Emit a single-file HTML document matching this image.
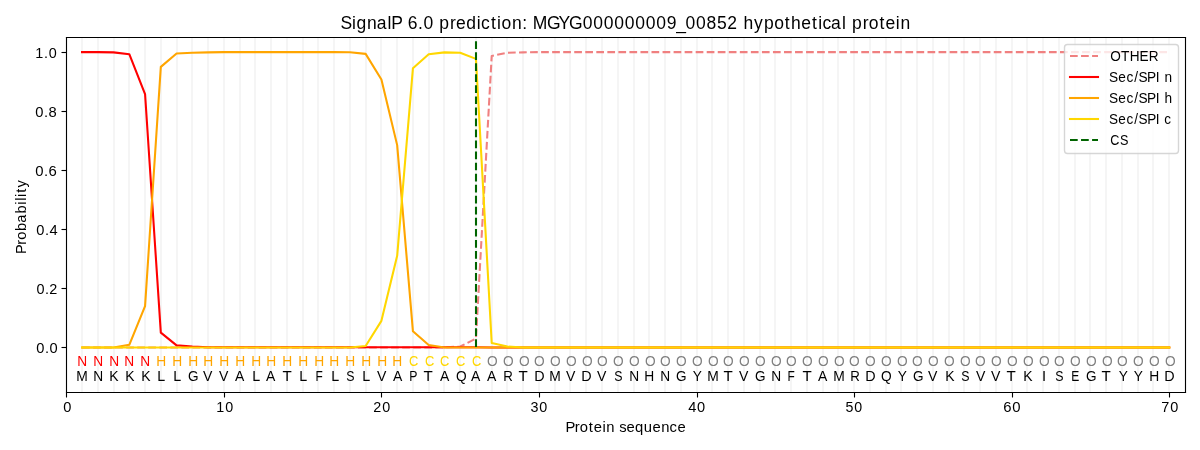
<!DOCTYPE html>
<html><head><meta charset="utf-8"><title>SignalP 6.0 prediction</title><style>html,body{margin:0;padding:0;background:#fff;overflow:hidden;width:1200px;height:450px}svg{display:block;will-change:transform}</style></head>
<body>
<svg width="1200" height="450" viewBox="0 0 1200 450" font-family="'Liberation Sans', sans-serif"><defs><clipPath id="c0"><rect x="66" y="37" width="1120" height="356"/></clipPath></defs>
<path d="M0 450L1200 450L1200 0L0 0Z" style="fill:#ffffff"/>
<path d="M66 392L1185 392L1185 37L66 37Z" style="fill:#ffffff"/>
<path d="M82 392L82 37" clip-path="url(#c0)" style="fill:none;stroke:#f5f5f5;stroke-width:2.08;stroke-linecap:square;stroke-linejoin:round"/>
<path d="M98 392L98 37" clip-path="url(#c0)" style="fill:none;stroke:#f5f5f5;stroke-width:2.08;stroke-linecap:square;stroke-linejoin:round"/>
<path d="M114 392L114 37" clip-path="url(#c0)" style="fill:none;stroke:#f5f5f5;stroke-width:2.08;stroke-linecap:square;stroke-linejoin:round"/>
<path d="M129 392L129 37" clip-path="url(#c0)" style="fill:none;stroke:#f5f5f5;stroke-width:2.08;stroke-linecap:square;stroke-linejoin:round"/>
<path d="M145 392L145 37" clip-path="url(#c0)" style="fill:none;stroke:#f5f5f5;stroke-width:2.08;stroke-linecap:square;stroke-linejoin:round"/>
<path d="M161 392L161 37" clip-path="url(#c0)" style="fill:none;stroke:#f5f5f5;stroke-width:2.08;stroke-linecap:square;stroke-linejoin:round"/>
<path d="M177 392L177 37" clip-path="url(#c0)" style="fill:none;stroke:#f5f5f5;stroke-width:2.08;stroke-linecap:square;stroke-linejoin:round"/>
<path d="M192 392L192 37" clip-path="url(#c0)" style="fill:none;stroke:#f5f5f5;stroke-width:2.08;stroke-linecap:square;stroke-linejoin:round"/>
<path d="M208 392L208 37" clip-path="url(#c0)" style="fill:none;stroke:#f5f5f5;stroke-width:2.08;stroke-linecap:square;stroke-linejoin:round"/>
<path d="M224 392L224 37" clip-path="url(#c0)" style="fill:none;stroke:#f5f5f5;stroke-width:2.08;stroke-linecap:square;stroke-linejoin:round"/>
<path d="M240 392L240 37" clip-path="url(#c0)" style="fill:none;stroke:#f5f5f5;stroke-width:2.08;stroke-linecap:square;stroke-linejoin:round"/>
<path d="M255 392L255 37" clip-path="url(#c0)" style="fill:none;stroke:#f5f5f5;stroke-width:2.08;stroke-linecap:square;stroke-linejoin:round"/>
<path d="M271 392L271 37" clip-path="url(#c0)" style="fill:none;stroke:#f5f5f5;stroke-width:2.08;stroke-linecap:square;stroke-linejoin:round"/>
<path d="M287 392L287 37" clip-path="url(#c0)" style="fill:none;stroke:#f5f5f5;stroke-width:2.08;stroke-linecap:square;stroke-linejoin:round"/>
<path d="M303 392L303 37" clip-path="url(#c0)" style="fill:none;stroke:#f5f5f5;stroke-width:2.08;stroke-linecap:square;stroke-linejoin:round"/>
<path d="M318 392L318 37" clip-path="url(#c0)" style="fill:none;stroke:#f5f5f5;stroke-width:2.08;stroke-linecap:square;stroke-linejoin:round"/>
<path d="M334 392L334 37" clip-path="url(#c0)" style="fill:none;stroke:#f5f5f5;stroke-width:2.08;stroke-linecap:square;stroke-linejoin:round"/>
<path d="M350 392L350 37" clip-path="url(#c0)" style="fill:none;stroke:#f5f5f5;stroke-width:2.08;stroke-linecap:square;stroke-linejoin:round"/>
<path d="M366 392L366 37" clip-path="url(#c0)" style="fill:none;stroke:#f5f5f5;stroke-width:2.08;stroke-linecap:square;stroke-linejoin:round"/>
<path d="M381 392L381 37" clip-path="url(#c0)" style="fill:none;stroke:#f5f5f5;stroke-width:2.08;stroke-linecap:square;stroke-linejoin:round"/>
<path d="M397 392L397 37" clip-path="url(#c0)" style="fill:none;stroke:#f5f5f5;stroke-width:2.08;stroke-linecap:square;stroke-linejoin:round"/>
<path d="M413 392L413 37" clip-path="url(#c0)" style="fill:none;stroke:#f5f5f5;stroke-width:2.08;stroke-linecap:square;stroke-linejoin:round"/>
<path d="M429 392L429 37" clip-path="url(#c0)" style="fill:none;stroke:#f5f5f5;stroke-width:2.08;stroke-linecap:square;stroke-linejoin:round"/>
<path d="M444 392L444 37" clip-path="url(#c0)" style="fill:none;stroke:#f5f5f5;stroke-width:2.08;stroke-linecap:square;stroke-linejoin:round"/>
<path d="M460 392L460 37" clip-path="url(#c0)" style="fill:none;stroke:#f5f5f5;stroke-width:2.08;stroke-linecap:square;stroke-linejoin:round"/>
<path d="M476 392L476 37" clip-path="url(#c0)" style="fill:none;stroke:#f5f5f5;stroke-width:2.08;stroke-linecap:square;stroke-linejoin:round"/>
<path d="M492 392L492 37" clip-path="url(#c0)" style="fill:none;stroke:#f5f5f5;stroke-width:2.08;stroke-linecap:square;stroke-linejoin:round"/>
<path d="M507 392L507 37" clip-path="url(#c0)" style="fill:none;stroke:#f5f5f5;stroke-width:2.08;stroke-linecap:square;stroke-linejoin:round"/>
<path d="M523 392L523 37" clip-path="url(#c0)" style="fill:none;stroke:#f5f5f5;stroke-width:2.08;stroke-linecap:square;stroke-linejoin:round"/>
<path d="M539 392L539 37" clip-path="url(#c0)" style="fill:none;stroke:#f5f5f5;stroke-width:2.08;stroke-linecap:square;stroke-linejoin:round"/>
<path d="M555 392L555 37" clip-path="url(#c0)" style="fill:none;stroke:#f5f5f5;stroke-width:2.08;stroke-linecap:square;stroke-linejoin:round"/>
<path d="M570 392L570 37" clip-path="url(#c0)" style="fill:none;stroke:#f5f5f5;stroke-width:2.08;stroke-linecap:square;stroke-linejoin:round"/>
<path d="M586 392L586 37" clip-path="url(#c0)" style="fill:none;stroke:#f5f5f5;stroke-width:2.08;stroke-linecap:square;stroke-linejoin:round"/>
<path d="M602 392L602 37" clip-path="url(#c0)" style="fill:none;stroke:#f5f5f5;stroke-width:2.08;stroke-linecap:square;stroke-linejoin:round"/>
<path d="M618 392L618 37" clip-path="url(#c0)" style="fill:none;stroke:#f5f5f5;stroke-width:2.08;stroke-linecap:square;stroke-linejoin:round"/>
<path d="M634 392L634 37" clip-path="url(#c0)" style="fill:none;stroke:#f5f5f5;stroke-width:2.08;stroke-linecap:square;stroke-linejoin:round"/>
<path d="M649 392L649 37" clip-path="url(#c0)" style="fill:none;stroke:#f5f5f5;stroke-width:2.08;stroke-linecap:square;stroke-linejoin:round"/>
<path d="M665 392L665 37" clip-path="url(#c0)" style="fill:none;stroke:#f5f5f5;stroke-width:2.08;stroke-linecap:square;stroke-linejoin:round"/>
<path d="M681 392L681 37" clip-path="url(#c0)" style="fill:none;stroke:#f5f5f5;stroke-width:2.08;stroke-linecap:square;stroke-linejoin:round"/>
<path d="M697 392L697 37" clip-path="url(#c0)" style="fill:none;stroke:#f5f5f5;stroke-width:2.08;stroke-linecap:square;stroke-linejoin:round"/>
<path d="M712 392L712 37" clip-path="url(#c0)" style="fill:none;stroke:#f5f5f5;stroke-width:2.08;stroke-linecap:square;stroke-linejoin:round"/>
<path d="M728 392L728 37" clip-path="url(#c0)" style="fill:none;stroke:#f5f5f5;stroke-width:2.08;stroke-linecap:square;stroke-linejoin:round"/>
<path d="M744 392L744 37" clip-path="url(#c0)" style="fill:none;stroke:#f5f5f5;stroke-width:2.08;stroke-linecap:square;stroke-linejoin:round"/>
<path d="M760 392L760 37" clip-path="url(#c0)" style="fill:none;stroke:#f5f5f5;stroke-width:2.08;stroke-linecap:square;stroke-linejoin:round"/>
<path d="M775 392L775 37" clip-path="url(#c0)" style="fill:none;stroke:#f5f5f5;stroke-width:2.08;stroke-linecap:square;stroke-linejoin:round"/>
<path d="M791 392L791 37" clip-path="url(#c0)" style="fill:none;stroke:#f5f5f5;stroke-width:2.08;stroke-linecap:square;stroke-linejoin:round"/>
<path d="M807 392L807 37" clip-path="url(#c0)" style="fill:none;stroke:#f5f5f5;stroke-width:2.08;stroke-linecap:square;stroke-linejoin:round"/>
<path d="M823 392L823 37" clip-path="url(#c0)" style="fill:none;stroke:#f5f5f5;stroke-width:2.08;stroke-linecap:square;stroke-linejoin:round"/>
<path d="M838 392L838 37" clip-path="url(#c0)" style="fill:none;stroke:#f5f5f5;stroke-width:2.08;stroke-linecap:square;stroke-linejoin:round"/>
<path d="M854 392L854 37" clip-path="url(#c0)" style="fill:none;stroke:#f5f5f5;stroke-width:2.08;stroke-linecap:square;stroke-linejoin:round"/>
<path d="M870 392L870 37" clip-path="url(#c0)" style="fill:none;stroke:#f5f5f5;stroke-width:2.08;stroke-linecap:square;stroke-linejoin:round"/>
<path d="M886 392L886 37" clip-path="url(#c0)" style="fill:none;stroke:#f5f5f5;stroke-width:2.08;stroke-linecap:square;stroke-linejoin:round"/>
<path d="M901 392L901 37" clip-path="url(#c0)" style="fill:none;stroke:#f5f5f5;stroke-width:2.08;stroke-linecap:square;stroke-linejoin:round"/>
<path d="M917 392L917 37" clip-path="url(#c0)" style="fill:none;stroke:#f5f5f5;stroke-width:2.08;stroke-linecap:square;stroke-linejoin:round"/>
<path d="M933 392L933 37" clip-path="url(#c0)" style="fill:none;stroke:#f5f5f5;stroke-width:2.08;stroke-linecap:square;stroke-linejoin:round"/>
<path d="M949 392L949 37" clip-path="url(#c0)" style="fill:none;stroke:#f5f5f5;stroke-width:2.08;stroke-linecap:square;stroke-linejoin:round"/>
<path d="M964 392L964 37" clip-path="url(#c0)" style="fill:none;stroke:#f5f5f5;stroke-width:2.08;stroke-linecap:square;stroke-linejoin:round"/>
<path d="M980 392L980 37" clip-path="url(#c0)" style="fill:none;stroke:#f5f5f5;stroke-width:2.08;stroke-linecap:square;stroke-linejoin:round"/>
<path d="M996 392L996 37" clip-path="url(#c0)" style="fill:none;stroke:#f5f5f5;stroke-width:2.08;stroke-linecap:square;stroke-linejoin:round"/>
<path d="M1012 392L1012 37" clip-path="url(#c0)" style="fill:none;stroke:#f5f5f5;stroke-width:2.08;stroke-linecap:square;stroke-linejoin:round"/>
<path d="M1027 392L1027 37" clip-path="url(#c0)" style="fill:none;stroke:#f5f5f5;stroke-width:2.08;stroke-linecap:square;stroke-linejoin:round"/>
<path d="M1043 392L1043 37" clip-path="url(#c0)" style="fill:none;stroke:#f5f5f5;stroke-width:2.08;stroke-linecap:square;stroke-linejoin:round"/>
<path d="M1059 392L1059 37" clip-path="url(#c0)" style="fill:none;stroke:#f5f5f5;stroke-width:2.08;stroke-linecap:square;stroke-linejoin:round"/>
<path d="M1075 392L1075 37" clip-path="url(#c0)" style="fill:none;stroke:#f5f5f5;stroke-width:2.08;stroke-linecap:square;stroke-linejoin:round"/>
<path d="M1090 392L1090 37" clip-path="url(#c0)" style="fill:none;stroke:#f5f5f5;stroke-width:2.08;stroke-linecap:square;stroke-linejoin:round"/>
<path d="M1106 392L1106 37" clip-path="url(#c0)" style="fill:none;stroke:#f5f5f5;stroke-width:2.08;stroke-linecap:square;stroke-linejoin:round"/>
<path d="M1122 392L1122 37" clip-path="url(#c0)" style="fill:none;stroke:#f5f5f5;stroke-width:2.08;stroke-linecap:square;stroke-linejoin:round"/>
<path d="M1138 392L1138 37" clip-path="url(#c0)" style="fill:none;stroke:#f5f5f5;stroke-width:2.08;stroke-linecap:square;stroke-linejoin:round"/>
<path d="M1153 392L1153 37" clip-path="url(#c0)" style="fill:none;stroke:#f5f5f5;stroke-width:2.08;stroke-linecap:square;stroke-linejoin:round"/>
<path d="M1169 392L1169 37" clip-path="url(#c0)" style="fill:none;stroke:#f5f5f5;stroke-width:2.08;stroke-linecap:square;stroke-linejoin:round"/>
<path d="M66.5 392.5L66.5 397.5" style="fill:none;stroke:#000000;stroke-width:1.11;stroke-linecap:butt;stroke-linejoin:round"/>
<text transform="translate(63 412.44) scale(1.0039 1)" x="0.34" y="0" font-size="14.58" fill="#000000">0</text>
<path d="M224.5 392.5L224.5 397.5" style="fill:none;stroke:#000000;stroke-width:1.11;stroke-linecap:butt;stroke-linejoin:round"/>
<text transform="translate(216 412.44) scale(0.9826 1)" x="0.37 9.47" y="0" font-size="14.58" fill="#000000">10</text>
<path d="M381.5 392.5L381.5 397.5" style="fill:none;stroke:#000000;stroke-width:1.11;stroke-linecap:butt;stroke-linejoin:round"/>
<text transform="translate(373 412.44) scale(0.9863 1)" x="0.24 9.29" y="0" font-size="14.58" fill="#000000">20</text>
<path d="M539.5 392.5L539.5 397.5" style="fill:none;stroke:#000000;stroke-width:1.11;stroke-linecap:butt;stroke-linejoin:round"/>
<text transform="translate(530 412.44) scale(0.9841 1)" x="0.45 9.32" y="0" font-size="14.58" fill="#000000">30</text>
<path d="M697.5 392.5L697.5 397.5" style="fill:none;stroke:#000000;stroke-width:1.11;stroke-linecap:butt;stroke-linejoin:round"/>
<text transform="translate(688 412.44) scale(1.0040 1)" x="0.34 9.06" y="0" font-size="14.58" fill="#000000">40</text>
<path d="M854.5 392.5L854.5 397.5" style="fill:none;stroke:#000000;stroke-width:1.11;stroke-linecap:butt;stroke-linejoin:round"/>
<text transform="translate(845 412.44) scale(0.9758 1)" x="0.41 9.44" y="0" font-size="14.58" fill="#000000">50</text>
<path d="M1012.5 392.5L1012.5 397.5" style="fill:none;stroke:#000000;stroke-width:1.11;stroke-linecap:butt;stroke-linejoin:round"/>
<text transform="translate(1003 412.44) scale(1.0212 1)" x="0.27 8.96" y="0" font-size="14.58" fill="#000000">60</text>
<path d="M1169.5 392.5L1169.5 397.5" style="fill:none;stroke:#000000;stroke-width:1.11;stroke-linecap:butt;stroke-linejoin:round"/>
<text transform="translate(1161 412.44) scale(0.9933 1)" x="0.36 9.2" y="0" font-size="14.58" fill="#000000">70</text>
<text transform="translate(566 432) scale(1.0149 1)" x="-0.51 8.65 13.56 22.42 27.4 35.88 39.72 0 52.36 59.55 67.94 76.73 85.29 93.79 102.05 109.8" y="0" font-size="14.58" fill="#000000">Protein sequence</text>
<path d="M66.5 347.5L61.5 347.5" style="fill:none;stroke:#000000;stroke-width:1.11;stroke-linecap:butt;stroke-linejoin:round"/>
<text transform="translate(36 352.92) scale(1.0063 1)" x="0.33 8.86 13.37" y="0" font-size="14.58" fill="#000000">0.0</text>
<path d="M66.5 288.5L61.5 288.5" style="fill:none;stroke:#000000;stroke-width:1.11;stroke-linecap:butt;stroke-linejoin:round"/>
<text transform="translate(36 293.86) scale(0.9903 1)" x="0.4 9.03 13.47" y="0" font-size="14.58" fill="#000000">0.2</text>
<path d="M66.5 229.5L61.5 229.5" style="fill:none;stroke:#000000;stroke-width:1.11;stroke-linecap:butt;stroke-linejoin:round"/>
<text transform="translate(36 234.79) scale(1.0063 1)" x="0.33 8.86 13.37" y="0" font-size="14.58" fill="#000000">0.4</text>
<path d="M66.5 170.5L61.5 170.5" style="fill:none;stroke:#000000;stroke-width:1.11;stroke-linecap:butt;stroke-linejoin:round"/>
<text transform="translate(35 175.73) scale(1.0220 1)" x="0.26 8.69 13.11" y="0" font-size="14.58" fill="#000000">0.6</text>
<path d="M66.5 111.5L61.5 111.5" style="fill:none;stroke:#000000;stroke-width:1.11;stroke-linecap:butt;stroke-linejoin:round"/>
<text transform="translate(35 116.66) scale(1.0113 1)" x="0.31 8.8 13.29" y="0" font-size="14.58" fill="#000000">0.8</text>
<path d="M66.5 52.5L61.5 52.5" style="fill:none;stroke:#000000;stroke-width:1.11;stroke-linecap:butt;stroke-linejoin:round"/>
<text transform="translate(35 57.6) scale(0.9871 1)" x="0.34 9.19 13.84" y="0" font-size="14.58" fill="#000000">1.0</text>
<text transform="translate(26 253.47) rotate(-90) scale(1.0026 1)" x="-0.46 8.79 13.77 22.49 30.58 39.95 48.68 52.54 56.41 60.62 65.9" y="0" font-size="14.58" fill="#000000">Probability</text>
<path d="M82.03 347.42L97.79 347.42L113.55 347.42L129.3 347.42L145.06 347.42L160.82 347.42L176.57 347.42L192.33 347.42L208.09 347.42L223.84 347.42L239.6 347.42L255.36 347.42L271.11 347.42L286.87 347.42L302.63 347.42L318.38 347.42L334.14 347.42L349.9 347.42L365.65 347.42L381.41 347.42L397.17 347.42L412.92 347.42L428.68 347.42L444.44 347.42L460.19 346.54L475.95 338.56L491.71 55.94L507.46 52.69L523.22 52.39L538.98 52.1L554.73 52.1L570.49 52.1L586.25 52.1L602 52.1L617.76 52.1L633.52 52.1L649.27 52.1L665.03 52.1L680.79 52.1L696.54 52.1L712.3 52.1L728.06 52.1L743.81 52.1L759.57 52.1L775.33 52.1L791.08 52.1L806.84 52.1L822.6 52.1L838.35 52.1L854.11 52.1L869.87 52.1L885.62 52.1L901.38 52.1L917.14 52.1L932.89 52.1L948.65 52.1L964.41 52.1L980.16 52.1L995.92 52.1L1011.68 52.1L1027.43 52.1L1043.19 52.1L1058.95 52.1L1074.7 52.1L1090.46 52.1L1106.22 52.1L1121.97 52.1L1137.73 52.1L1153.49 52.1L1169.24 52.1" clip-path="url(#c0)" style="fill:none;stroke:#f08080;stroke-width:2.08;stroke-linecap:butt;stroke-linejoin:round;stroke-dasharray:7.71,3.33"/>
<path d="M82.03 52.1L97.79 52.1L113.55 52.39L129.3 54.17L145.06 94.04L160.82 332.66L176.57 345.36L192.33 346.54L208.09 347.22L223.84 347.22L239.6 347.22L255.36 347.22L271.11 347.22L286.87 347.22L302.63 347.22L318.38 347.22L334.14 347.22L349.9 347.22L365.65 347.22L381.41 347.22L397.17 347.22L412.92 347.22L428.68 347.22L444.44 347.22L460.19 347.22L475.95 347.22L491.71 347.42L507.46 347.42L523.22 347.42L538.98 347.42L554.73 347.42L570.49 347.42L586.25 347.42L602 347.42L617.76 347.42L633.52 347.42L649.27 347.42L665.03 347.42L680.79 347.42L696.54 347.42L712.3 347.42L728.06 347.42L743.81 347.42L759.57 347.42L775.33 347.42L791.08 347.42L806.84 347.42L822.6 347.42L838.35 347.42L854.11 347.42L869.87 347.42L885.62 347.42L901.38 347.42L917.14 347.42L932.89 347.42L948.65 347.42L964.41 347.42L980.16 347.42L995.92 347.42L1011.68 347.42L1027.43 347.42L1043.19 347.42L1058.95 347.42L1074.7 347.42L1090.46 347.42L1106.22 347.42L1121.97 347.42L1137.73 347.42L1153.49 347.42L1169.24 347.42" clip-path="url(#c0)" style="fill:none;stroke:#ff0000;stroke-width:2.08;stroke-linecap:square;stroke-linejoin:round"/>
<path d="M82.03 347.42L97.79 347.42L113.55 347.42L129.3 344.77L145.06 306.08L160.82 66.87L176.57 53.58L192.33 52.69L208.09 52.39L223.84 52.1L239.6 52.1L255.36 52.1L271.11 52.1L286.87 52.1L302.63 52.1L318.38 52.1L334.14 52.1L349.9 52.25L365.65 53.87L381.41 79.56L397.17 145.13L412.92 331.18L428.68 345.06L444.44 347.42L460.19 347.42L475.95 347.42L491.71 347.42L507.46 347.42L523.22 347.42L538.98 347.42L554.73 347.42L570.49 347.42L586.25 347.42L602 347.42L617.76 347.42L633.52 347.42L649.27 347.42L665.03 347.42L680.79 347.42L696.54 347.42L712.3 347.42L728.06 347.42L743.81 347.42L759.57 347.42L775.33 347.42L791.08 347.42L806.84 347.42L822.6 347.42L838.35 347.42L854.11 347.42L869.87 347.42L885.62 347.42L901.38 347.42L917.14 347.42L932.89 347.42L948.65 347.42L964.41 347.42L980.16 347.42L995.92 347.42L1011.68 347.42L1027.43 347.42L1043.19 347.42L1058.95 347.42L1074.7 347.42L1090.46 347.42L1106.22 347.42L1121.97 347.42L1137.73 347.42L1153.49 347.42L1169.24 347.42" clip-path="url(#c0)" style="fill:none;stroke:#ffa500;stroke-width:2.08;stroke-linecap:square;stroke-linejoin:round"/>
<path d="M82.03 347.42L97.79 347.42L113.55 347.42L129.3 347.42L145.06 347.42L160.82 347.42L176.57 347.42L192.33 347.42L208.09 347.42L223.84 347.42L239.6 347.42L255.36 347.42L271.11 347.42L286.87 347.42L302.63 347.42L318.38 347.42L334.14 347.42L349.9 347.42L365.65 345.95L381.41 320.84L397.17 255.87L412.92 68.34L428.68 54.17L444.44 52.39L460.19 52.69L475.95 58.89L491.71 342.99L507.46 346.54L523.22 347.42L538.98 347.42L554.73 347.42L570.49 347.42L586.25 347.42L602 347.42L617.76 347.42L633.52 347.42L649.27 347.42L665.03 347.42L680.79 347.42L696.54 347.42L712.3 347.42L728.06 347.42L743.81 347.42L759.57 347.42L775.33 347.42L791.08 347.42L806.84 347.42L822.6 347.42L838.35 347.42L854.11 347.42L869.87 347.42L885.62 347.42L901.38 347.42L917.14 347.42L932.89 347.42L948.65 347.42L964.41 347.42L980.16 347.42L995.92 347.42L1011.68 347.42L1027.43 347.42L1043.19 347.42L1058.95 347.42L1074.7 347.42L1090.46 347.42L1106.22 347.42L1121.97 347.42L1137.73 347.42L1153.49 347.42L1169.24 347.42" clip-path="url(#c0)" style="fill:none;stroke:#ffd700;stroke-width:2.08;stroke-linecap:square;stroke-linejoin:round"/>
<path d="M476 347L476 40" clip-path="url(#c0)" style="fill:none;stroke:#006400;stroke-width:2.08;stroke-linecap:butt;stroke-linejoin:round;stroke-dasharray:7.71,3.33"/>
<path d="M66.5 392.5L66.5 37.5" style="fill:none;stroke:#000000;stroke-width:1.11;stroke-linecap:square;stroke-linejoin:miter"/>
<path d="M1185.5 392.5L1185.5 37.5" style="fill:none;stroke:#000000;stroke-width:1.11;stroke-linecap:square;stroke-linejoin:miter"/>
<path d="M66.5 392.5L1185.5 392.5" style="fill:none;stroke:#000000;stroke-width:1.11;stroke-linecap:square;stroke-linejoin:miter"/>
<path d="M66.5 37.5L1185.5 37.5" style="fill:none;stroke:#000000;stroke-width:1.11;stroke-linecap:square;stroke-linejoin:miter"/>
<text transform="translate(77 366.19) scale(0.9407 1)" x="0.25" y="0" font-size="14.58" fill="#ff0000">N</text>
<text transform="translate(76 380.96) scale(0.9496 1)" x="0.24" y="0" font-size="14.58" fill="#000000">M</text>
<text transform="translate(93 366.19) scale(0.9407 1)" x="0.25" y="0" font-size="14.58" fill="#ff0000">N</text>
<text transform="translate(93 380.96) scale(0.9407 1)" x="0.25" y="0" font-size="14.58" fill="#000000">N</text>
<text transform="translate(109 366.19) scale(0.9407 1)" x="0.25" y="0" font-size="14.58" fill="#ff0000">N</text>
<text transform="translate(109 380.96) scale(0.9605 1)" x="0.22" y="0" font-size="14.58" fill="#000000">K</text>
<text transform="translate(124 366.19) scale(0.9407 1)" x="0.25" y="0" font-size="14.58" fill="#ff0000">N</text>
<text transform="translate(125 380.96) scale(0.9605 1)" x="0.22" y="0" font-size="14.58" fill="#000000">K</text>
<text transform="translate(140 366.19) scale(0.9407 1)" x="0.25" y="0" font-size="14.58" fill="#ff0000">N</text>
<text transform="translate(141 380.96) scale(0.9605 1)" x="0.22" y="0" font-size="14.58" fill="#000000">K</text>
<text transform="translate(156 366.19) scale(0.9474 1)" x="0.24" y="0" font-size="14.58" fill="#ffa500">H</text>
<text transform="translate(157 380.96) scale(0.9798 1)" x="0.19" y="0" font-size="14.58" fill="#000000">L</text>
<text transform="translate(172 366.19) scale(0.9474 1)" x="0.24" y="0" font-size="14.58" fill="#ffa500">H</text>
<text transform="translate(173 380.96) scale(0.9798 1)" x="0.19" y="0" font-size="14.58" fill="#000000">L</text>
<text transform="translate(188 366.19) scale(0.9474 1)" x="0.24" y="0" font-size="14.58" fill="#ffa500">H</text>
<text transform="translate(188 380.96) scale(0.9289 1)" x="0.11" y="0" font-size="14.58" fill="#000000">G</text>
<text transform="translate(203 366.19) scale(0.9474 1)" x="0.24" y="0" font-size="14.58" fill="#ffa500">H</text>
<text transform="translate(203 380.96) scale(0.9665 1)" x="0.05" y="0" font-size="14.58" fill="#000000">V</text>
<text transform="translate(219 366.19) scale(0.9474 1)" x="0.24" y="0" font-size="14.58" fill="#ffa500">H</text>
<text transform="translate(219 380.96) scale(0.9665 1)" x="0.05" y="0" font-size="14.58" fill="#000000">V</text>
<text transform="translate(235 366.19) scale(0.9474 1)" x="0.24" y="0" font-size="14.58" fill="#ffa500">H</text>
<text transform="translate(235 380.96) scale(0.9594 1)" x="0.08" y="0" font-size="14.58" fill="#000000">A</text>
<text transform="translate(251 366.19) scale(0.9474 1)" x="0.24" y="0" font-size="14.58" fill="#ffa500">H</text>
<text transform="translate(252 380.96) scale(0.9798 1)" x="0.19" y="0" font-size="14.58" fill="#000000">L</text>
<text transform="translate(266 366.19) scale(0.9474 1)" x="0.24" y="0" font-size="14.58" fill="#ffa500">H</text>
<text transform="translate(266 380.96) scale(0.9594 1)" x="0.08" y="0" font-size="14.58" fill="#000000">A</text>
<text transform="translate(282 366.19) scale(0.9474 1)" x="0.24" y="0" font-size="14.58" fill="#ffa500">H</text>
<text transform="translate(283 380.96) scale(1.0387 1)" x="-0.37" y="0" font-size="14.58" fill="#000000">T</text>
<text transform="translate(298 366.19) scale(0.9474 1)" x="0.24" y="0" font-size="14.58" fill="#ffa500">H</text>
<text transform="translate(299 380.96) scale(0.9798 1)" x="0.19" y="0" font-size="14.58" fill="#000000">L</text>
<text transform="translate(314 366.19) scale(0.9474 1)" x="0.24" y="0" font-size="14.58" fill="#ffa500">H</text>
<text transform="translate(315 380.96) scale(0.8163 1)" x="0.47" y="0" font-size="14.58" fill="#000000">F</text>
<text transform="translate(329 366.19) scale(0.9474 1)" x="0.24" y="0" font-size="14.58" fill="#ffa500">H</text>
<text transform="translate(331 380.96) scale(0.9798 1)" x="0.19" y="0" font-size="14.58" fill="#000000">L</text>
<text transform="translate(345 366.19) scale(0.9474 1)" x="0.24" y="0" font-size="14.58" fill="#ffa500">H</text>
<text transform="translate(346 380.96) scale(0.8490 1)" x="0.42" y="0" font-size="14.58" fill="#000000">S</text>
<text transform="translate(361 366.19) scale(0.9474 1)" x="0.24" y="0" font-size="14.58" fill="#ffa500">H</text>
<text transform="translate(362 380.96) scale(0.9798 1)" x="0.19" y="0" font-size="14.58" fill="#000000">L</text>
<text transform="translate(377 366.19) scale(0.9474 1)" x="0.24" y="0" font-size="14.58" fill="#ffa500">H</text>
<text transform="translate(377 380.96) scale(0.9665 1)" x="0.05" y="0" font-size="14.58" fill="#000000">V</text>
<text transform="translate(392 366.19) scale(0.9474 1)" x="0.24" y="0" font-size="14.58" fill="#ffa500">H</text>
<text transform="translate(393 380.96) scale(0.9594 1)" x="0.08" y="0" font-size="14.58" fill="#000000">A</text>
<text transform="translate(409 366.19) scale(0.8841 1)" x="0.14" y="0" font-size="14.58" fill="#ffd700">C</text>
<text transform="translate(409 380.96) scale(0.8423 1)" x="0.42" y="0" font-size="14.58" fill="#000000">P</text>
<text transform="translate(425 366.19) scale(0.8841 1)" x="0.14" y="0" font-size="14.58" fill="#ffd700">C</text>
<text transform="translate(424 380.96) scale(1.0387 1)" x="-0.37" y="0" font-size="14.58" fill="#000000">T</text>
<text transform="translate(440 366.19) scale(0.8841 1)" x="0.14" y="0" font-size="14.58" fill="#ffd700">C</text>
<text transform="translate(440 380.96) scale(0.9594 1)" x="0.08" y="0" font-size="14.58" fill="#000000">A</text>
<text transform="translate(456 366.19) scale(0.8841 1)" x="0.14" y="0" font-size="14.58" fill="#ffd700">C</text>
<text transform="translate(456 380.96) scale(0.9415 1)" x="0.14" y="0" font-size="14.58" fill="#000000">Q</text>
<text transform="translate(472 366.19) scale(0.8841 1)" x="0.14" y="0" font-size="14.58" fill="#ffd700">C</text>
<text transform="translate(471 380.96) scale(0.9594 1)" x="0.08" y="0" font-size="14.58" fill="#000000">A</text>
<text transform="translate(487 366.19) scale(0.9415 1)" x="0.14" y="0" font-size="14.58" fill="#808080">O</text>
<text transform="translate(487 380.96) scale(0.9594 1)" x="0.08" y="0" font-size="14.58" fill="#000000">A</text>
<text transform="translate(503 366.19) scale(0.9415 1)" x="0.14" y="0" font-size="14.58" fill="#808080">O</text>
<text transform="translate(503 380.96) scale(0.9109 1)" x="0.3" y="0" font-size="14.58" fill="#000000">R</text>
<text transform="translate(519 366.19) scale(0.9415 1)" x="0.14" y="0" font-size="14.58" fill="#808080">O</text>
<text transform="translate(519 380.96) scale(1.0387 1)" x="-0.37" y="0" font-size="14.58" fill="#000000">T</text>
<text transform="translate(534 366.19) scale(0.9415 1)" x="0.14" y="0" font-size="14.58" fill="#808080">O</text>
<text transform="translate(534 380.96) scale(0.9854 1)" x="0.19" y="0" font-size="14.58" fill="#000000">D</text>
<text transform="translate(550 366.19) scale(0.9415 1)" x="0.14" y="0" font-size="14.58" fill="#808080">O</text>
<text transform="translate(549 380.96) scale(0.9496 1)" x="0.24" y="0" font-size="14.58" fill="#000000">M</text>
<text transform="translate(566 366.19) scale(0.9415 1)" x="0.14" y="0" font-size="14.58" fill="#808080">O</text>
<text transform="translate(566 380.96) scale(0.9665 1)" x="0.05" y="0" font-size="14.58" fill="#000000">V</text>
<text transform="translate(582 366.19) scale(0.9415 1)" x="0.14" y="0" font-size="14.58" fill="#808080">O</text>
<text transform="translate(581 380.96) scale(0.9854 1)" x="0.19" y="0" font-size="14.58" fill="#000000">D</text>
<text transform="translate(597 366.19) scale(0.9415 1)" x="0.14" y="0" font-size="14.58" fill="#808080">O</text>
<text transform="translate(597 380.96) scale(0.9665 1)" x="0.05" y="0" font-size="14.58" fill="#000000">V</text>
<text transform="translate(613 366.19) scale(0.9415 1)" x="0.14" y="0" font-size="14.58" fill="#808080">O</text>
<text transform="translate(614 380.96) scale(0.8490 1)" x="0.42" y="0" font-size="14.58" fill="#000000">S</text>
<text transform="translate(629 366.19) scale(0.9415 1)" x="0.14" y="0" font-size="14.58" fill="#808080">O</text>
<text transform="translate(629 380.96) scale(0.9407 1)" x="0.25" y="0" font-size="14.58" fill="#000000">N</text>
<text transform="translate(645 366.19) scale(0.9415 1)" x="0.14" y="0" font-size="14.58" fill="#808080">O</text>
<text transform="translate(644 380.96) scale(0.9474 1)" x="0.24" y="0" font-size="14.58" fill="#000000">H</text>
<text transform="translate(660 366.19) scale(0.9415 1)" x="0.14" y="0" font-size="14.58" fill="#808080">O</text>
<text transform="translate(660 380.96) scale(0.9407 1)" x="0.25" y="0" font-size="14.58" fill="#000000">N</text>
<text transform="translate(676 366.19) scale(0.9415 1)" x="0.14" y="0" font-size="14.58" fill="#808080">O</text>
<text transform="translate(676 380.96) scale(0.9289 1)" x="0.11" y="0" font-size="14.58" fill="#000000">G</text>
<text transform="translate(692 366.19) scale(0.9415 1)" x="0.14" y="0" font-size="14.58" fill="#808080">O</text>
<text transform="translate(693 380.96) scale(0.9397 1)" x="-0.35" y="0" font-size="14.58" fill="#000000">Y</text>
<text transform="translate(708 366.19) scale(0.9415 1)" x="0.14" y="0" font-size="14.58" fill="#808080">O</text>
<text transform="translate(707 380.96) scale(0.9496 1)" x="0.24" y="0" font-size="14.58" fill="#000000">M</text>
<text transform="translate(723 366.19) scale(0.9415 1)" x="0.14" y="0" font-size="14.58" fill="#808080">O</text>
<text transform="translate(724 380.96) scale(1.0387 1)" x="-0.37" y="0" font-size="14.58" fill="#000000">T</text>
<text transform="translate(739 366.19) scale(0.9415 1)" x="0.14" y="0" font-size="14.58" fill="#808080">O</text>
<text transform="translate(739 380.96) scale(0.9665 1)" x="0.05" y="0" font-size="14.58" fill="#000000">V</text>
<text transform="translate(755 366.19) scale(0.9415 1)" x="0.14" y="0" font-size="14.58" fill="#808080">O</text>
<text transform="translate(755 380.96) scale(0.9289 1)" x="0.11" y="0" font-size="14.58" fill="#000000">G</text>
<text transform="translate(771 366.19) scale(0.9415 1)" x="0.14" y="0" font-size="14.58" fill="#808080">O</text>
<text transform="translate(771 380.96) scale(0.9407 1)" x="0.25" y="0" font-size="14.58" fill="#000000">N</text>
<text transform="translate(786 366.19) scale(0.9415 1)" x="0.14" y="0" font-size="14.58" fill="#808080">O</text>
<text transform="translate(787 380.96) scale(0.8163 1)" x="0.47" y="0" font-size="14.58" fill="#000000">F</text>
<text transform="translate(802 366.19) scale(0.9415 1)" x="0.14" y="0" font-size="14.58" fill="#808080">O</text>
<text transform="translate(803 380.96) scale(1.0387 1)" x="-0.37" y="0" font-size="14.58" fill="#000000">T</text>
<text transform="translate(818 366.19) scale(0.9415 1)" x="0.14" y="0" font-size="14.58" fill="#808080">O</text>
<text transform="translate(818 380.96) scale(0.9594 1)" x="0.08" y="0" font-size="14.58" fill="#000000">A</text>
<text transform="translate(834 366.19) scale(0.9415 1)" x="0.14" y="0" font-size="14.58" fill="#808080">O</text>
<text transform="translate(833 380.96) scale(0.9496 1)" x="0.24" y="0" font-size="14.58" fill="#000000">M</text>
<text transform="translate(849 366.19) scale(0.9415 1)" x="0.14" y="0" font-size="14.58" fill="#808080">O</text>
<text transform="translate(850 380.96) scale(0.9109 1)" x="0.3" y="0" font-size="14.58" fill="#000000">R</text>
<text transform="translate(865 366.19) scale(0.9415 1)" x="0.14" y="0" font-size="14.58" fill="#808080">O</text>
<text transform="translate(865 380.96) scale(0.9854 1)" x="0.19" y="0" font-size="14.58" fill="#000000">D</text>
<text transform="translate(881 366.19) scale(0.9415 1)" x="0.14" y="0" font-size="14.58" fill="#808080">O</text>
<text transform="translate(881 380.96) scale(0.9415 1)" x="0.14" y="0" font-size="14.58" fill="#000000">Q</text>
<text transform="translate(897 366.19) scale(0.9415 1)" x="0.14" y="0" font-size="14.58" fill="#808080">O</text>
<text transform="translate(898 380.96) scale(0.9397 1)" x="-0.35" y="0" font-size="14.58" fill="#000000">Y</text>
<text transform="translate(912 366.19) scale(0.9415 1)" x="0.14" y="0" font-size="14.58" fill="#808080">O</text>
<text transform="translate(913 380.96) scale(0.9289 1)" x="0.11" y="0" font-size="14.58" fill="#000000">G</text>
<text transform="translate(928 366.19) scale(0.9415 1)" x="0.14" y="0" font-size="14.58" fill="#808080">O</text>
<text transform="translate(928 380.96) scale(0.9665 1)" x="0.05" y="0" font-size="14.58" fill="#000000">V</text>
<text transform="translate(944 366.19) scale(0.9415 1)" x="0.14" y="0" font-size="14.58" fill="#808080">O</text>
<text transform="translate(945 380.96) scale(0.9605 1)" x="0.22" y="0" font-size="14.58" fill="#000000">K</text>
<text transform="translate(960 366.19) scale(0.9415 1)" x="0.14" y="0" font-size="14.58" fill="#808080">O</text>
<text transform="translate(961 380.96) scale(0.8490 1)" x="0.42" y="0" font-size="14.58" fill="#000000">S</text>
<text transform="translate(975 366.19) scale(0.9415 1)" x="0.14" y="0" font-size="14.58" fill="#808080">O</text>
<text transform="translate(976 380.96) scale(0.9665 1)" x="0.05" y="0" font-size="14.58" fill="#000000">V</text>
<text transform="translate(991 366.19) scale(0.9415 1)" x="0.14" y="0" font-size="14.58" fill="#808080">O</text>
<text transform="translate(991 380.96) scale(0.9665 1)" x="0.05" y="0" font-size="14.58" fill="#000000">V</text>
<text transform="translate(1007 366.19) scale(0.9415 1)" x="0.14" y="0" font-size="14.58" fill="#808080">O</text>
<text transform="translate(1007 380.96) scale(1.0387 1)" x="-0.37" y="0" font-size="14.58" fill="#000000">T</text>
<text transform="translate(1023 366.19) scale(0.9415 1)" x="0.14" y="0" font-size="14.58" fill="#808080">O</text>
<text transform="translate(1023 380.96) scale(0.9605 1)" x="0.22" y="0" font-size="14.58" fill="#000000">K</text>
<text transform="translate(1039 366.19) scale(0.9415 1)" x="0.14" y="0" font-size="14.58" fill="#808080">O</text>
<text transform="translate(1042 380.96) scale(1.0072 1)" x="0.01" y="0" font-size="14.58" fill="#000000">I</text>
<text transform="translate(1054 366.19) scale(0.9415 1)" x="0.14" y="0" font-size="14.58" fill="#808080">O</text>
<text transform="translate(1055 380.96) scale(0.8490 1)" x="0.42" y="0" font-size="14.58" fill="#000000">S</text>
<text transform="translate(1070 366.19) scale(0.9415 1)" x="0.14" y="0" font-size="14.58" fill="#808080">O</text>
<text transform="translate(1071 380.96) scale(0.8254 1)" x="0.46" y="0" font-size="14.58" fill="#000000">E</text>
<text transform="translate(1086 366.19) scale(0.9415 1)" x="0.14" y="0" font-size="14.58" fill="#808080">O</text>
<text transform="translate(1086 380.96) scale(0.9289 1)" x="0.11" y="0" font-size="14.58" fill="#000000">G</text>
<text transform="translate(1102 366.19) scale(0.9415 1)" x="0.14" y="0" font-size="14.58" fill="#808080">O</text>
<text transform="translate(1102 380.96) scale(1.0387 1)" x="-0.37" y="0" font-size="14.58" fill="#000000">T</text>
<text transform="translate(1117 366.19) scale(0.9415 1)" x="0.14" y="0" font-size="14.58" fill="#808080">O</text>
<text transform="translate(1119 380.96) scale(0.9397 1)" x="-0.35" y="0" font-size="14.58" fill="#000000">Y</text>
<text transform="translate(1133 366.19) scale(0.9415 1)" x="0.14" y="0" font-size="14.58" fill="#808080">O</text>
<text transform="translate(1134 380.96) scale(0.9397 1)" x="-0.35" y="0" font-size="14.58" fill="#000000">Y</text>
<text transform="translate(1149 366.19) scale(0.9415 1)" x="0.14" y="0" font-size="14.58" fill="#808080">O</text>
<text transform="translate(1149 380.96) scale(0.9474 1)" x="0.24" y="0" font-size="14.58" fill="#000000">H</text>
<text transform="translate(1165 366.19) scale(0.9415 1)" x="0.14" y="0" font-size="14.58" fill="#808080">O</text>
<text transform="translate(1164 380.96) scale(0.9854 1)" x="0.19" y="0" font-size="14.58" fill="#000000">D</text>
<text transform="translate(341 29)" x="-0.46 10.88 15.44 26.07 35.73 46.61 50.33 0 66.67 76.94 82.41 0 98.25 109.06 115.02 125.29 135.85 140.1 150.01 156.09 160.57 170.91 181.34 0 191.86 205.98 217.58 228.1 241.75 252.25 262.75 273.24 283.74 294.24 304.74 315.23 325.68 335.13 344.6 355.1 365.6 376.03 386.37 0 402.46 413.08 422.93 433.14 443.81 449.95 460.31 471.06 477.14 481.4 490.12 501.01 0 511.03 521.84 527.74 538.42 544.42 554.75 559.45" y="0" font-size="17.5" fill="#000000">SignalP 6.0 prediction: MGYG000000009_00852 hypothetical protein</text>
<path d="M1067.5 153.5L1175.5 153.5Q1178.5 153.5 1178.5 150.5L1178.5 47.5Q1178.5 44.5 1175.5 44.5L1067.5 44.5Q1064.5 44.5 1064.5 47.5L1064.5 150.5Q1064.5 153.5 1067.5 153.5Z" style="fill:#ffffff;fill-opacity:0.8;stroke:#cccccc;stroke-width:1.39;stroke-linecap:butt;stroke-linejoin:miter;stroke-opacity:0.8"/>
<path d="M1070 56L1084 56L1098 56" style="fill:none;stroke:#f08080;stroke-width:2.08;stroke-linecap:butt;stroke-linejoin:round;stroke-dasharray:7.71,3.33"/>
<text transform="translate(1110 60.83) scale(0.9337 1)" x="0.19 11.74 21.07 31.67 41.39" y="0" font-size="14.58" fill="#000000">OTHER</text>
<path d="M1070 77L1084 77L1098 77" style="fill:none;stroke:#ff0000;stroke-width:2.08;stroke-linecap:square;stroke-linejoin:round"/>
<text transform="translate(1109 81.78) scale(0.9383 1)" x="-0.09 9.85 18.64 26.98 31.35 40.62 49.85 0 59.28" y="0" font-size="14.58" fill="#000000">Sec/SPI n</text>
<path d="M1070 98L1084 98L1098 98" style="fill:none;stroke:#ffa500;stroke-width:2.08;stroke-linecap:square;stroke-linejoin:round"/>
<text transform="translate(1109 102.72) scale(0.9392 1)" x="-0.09 9.84 18.62 26.95 31.32 40.58 49.8 0 59.21" y="0" font-size="14.58" fill="#000000">Sec/SPI h</text>
<path d="M1070 119L1084 119L1098 119" style="fill:none;stroke:#ffd700;stroke-width:2.08;stroke-linecap:square;stroke-linejoin:round"/>
<text transform="translate(1109 123.67) scale(0.9294 1)" x="-0.04 9.98 18.85 27.25 31.7 41.06 50.34 0 59.47" y="0" font-size="14.58" fill="#000000">Sec/SPI c</text>
<path d="M1070 140L1084 140L1098 140" style="fill:none;stroke:#006400;stroke-width:2.08;stroke-linecap:butt;stroke-linejoin:round;stroke-dasharray:7.71,3.33"/>
<text transform="translate(1110 144.61) scale(0.8674 1)" x="0.25 11.55" y="0" font-size="14.58" fill="#000000">CS</text>
</svg>
</body></html>
